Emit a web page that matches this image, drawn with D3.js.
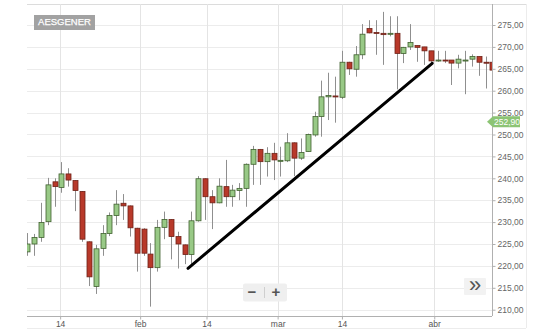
<!DOCTYPE html>
<html>
<head>
<meta charset="utf-8">
<script src="https://cdnjs.cloudflare.com/ajax/libs/d3/7.8.5/d3.min.js"></script>
<style>
  body { margin: 0; background: #fff; }
  svg { display: block; font-family: "Liberation Sans", Arial, sans-serif; }
</style>
</head>
<body>
<svg id="chart" width="550" height="330"></svg>
<script>
// daily candles, first visible day to last
const opens  = [223.2,225.0,226.5,230.1,239.2,237.9,241.0,239.5,237.0,225.5,
                215.3,224.0,227.4,231.5,234.3,233.7,228.6,228.4,222.7,219.6,
                228.8,230.6,226.7,224.8,222.6,230.3,239.9,235.8,234.4,238.1,
                235.8,237.2,237.7,243.2,246.6,243.8,245.7,243.9,244.0,248.1,
                244.6,246.1,249.9,254.1,258.6,258.8,258.5,266.5,264.9,268.2,
                274.2,273.3,273.1,273.0,273.1,268.5,270.0,270.3,270.0,269.1,
                267.0,267.0,267.0,266.3,266.9,267.2,267.8,266.5,266.5];
const highs  = [227.5,227.3,234.4,240.1,240.0,243.7,242.3,239.6,237.1,225.6,
                224.8,229.3,232.2,237.3,236.4,233.8,228.7,228.6,225.2,230.5,
                232.4,230.7,227.8,224.9,232.4,240.5,240.0,237.3,240.0,244.2,
                238.5,238.9,243.4,247.4,246.7,247.1,248.1,247.2,250.3,248.2,
                249.1,250.2,255.2,262.3,264.1,263.2,269.1,266.6,270.2,275.2,
                276.1,276.1,278.0,277.0,277.0,270.0,275.2,270.3,270.0,269.1,
                269.1,269.1,267.0,268.2,269.1,268.3,267.8,267.8,266.6];
const lows   = [222.3,222.3,225.5,229.3,233.5,236.7,238.1,232.5,225.5,215.4,
                213.6,222.3,226.8,229.3,230.5,226.7,218.7,222.3,210.7,218.7,
                226.1,221.5,219.4,220.4,220.4,230.1,230.5,228.4,234.3,233.5,
                233.5,235.0,233.5,238.5,238.5,240.4,239.6,240.4,243.7,240.5,
                244.2,246.0,249.5,249.5,253.3,252.7,258.1,263.6,263.2,267.2,
                273.1,268.2,265.9,272.4,260.3,266.3,269.3,266.6,265.9,266.3,
                266.6,266.3,261.3,265.1,259.2,265.5,263.4,260.5,264.0];
const closes = [225.0,226.5,229.9,238.5,238.1,241.0,239.6,237.2,226.1,217.5,
                223.9,227.4,231.5,234.1,233.7,228.7,222.9,222.9,219.6,228.8,
                230.6,226.7,225.0,222.6,230.3,239.9,235.8,234.4,238.2,235.8,
                237.3,237.7,243.2,246.6,243.8,245.7,244.2,244.1,248.1,244.6,
                245.9,250.0,254.1,258.6,258.9,258.6,266.5,265.0,268.2,272.9,
                273.2,273.1,272.8,273.1,268.5,269.9,271.0,269.9,269.1,266.8,
                267.0,266.9,266.3,267.2,267.0,267.8,266.5,266.3,264.7];

const dateTickAt = [4.8, 16.5, 26.2, 36.6, 46, 59.5];   // in candle index units
const dateTickLabels = ["14", "feb", "14", "mar", "14", "abr"];
const priceTicks = [210, 215, 220, 225, 230, 235, 240, 245, 250, 255, 260, 265, 270, 275];

const symbol = "AESGENER";
const lastPrice = 252.90;
// hand drawn trend line: [candle index, price]
const trendLine = [[23.5, 219.45], [59.2, 266.25]];

const candles = opens.map((o, i) => ({ i: i, o: o, h: highs[i], l: lows[i], c: closes[i] }));

const svg = d3.select("#chart");
const plotL = 27, plotR = 492, plotT = 4, plotB = 316;

const x = d3.scaleLinear().domain([0, candles.length - 1]).range([27.3, 492.4]);
const y = d3.scaleLinear().domain([210, 275]).range([309.7, 25]);

const es = d3.formatLocale({ decimal: ",", thousands: ".", grouping: [3], currency: ["", ""] });
const fmt = es.format(".2f");

svg.append("clipPath").attr("id", "plot")
  .append("rect").attr("x", plotL).attr("y", plotT).attr("width", plotR - plotL).attr("height", plotB - plotT);

// outer frame lines
svg.append("line").attr("x1", plotL).attr("x2", 526).attr("y1", plotT + 0.5).attr("y2", plotT + 0.5)
  .attr("stroke", "#dcdcdc");
svg.append("line").attr("x1", 526.5).attr("x2", 526.5).attr("y1", plotT).attr("y2", plotB + 12)
  .attr("stroke", "#ececec");
svg.append("line").attr("x1", plotL).attr("x2", 526).attr("y1", 328.5).attr("y2", 328.5)
  .attr("stroke", "#ececec");

// grid
svg.append("g").selectAll("line").data(priceTicks).join("line")
  .attr("x1", plotL).attr("x2", plotR)
  .attr("y1", d => Math.round(y(d)) + 0.5).attr("y2", d => Math.round(y(d)) + 0.5)
  .attr("stroke", "#ececec");
svg.append("g").selectAll("line").data(dateTickAt).join("line")
  .attr("x1", d => Math.round(x(d)) + 0.5).attr("x2", d => Math.round(x(d)) + 0.5)
  .attr("y1", plotT).attr("y2", plotB)
  .attr("stroke", "#e4e4e4");

// axes
const yAxis = svg.append("g").attr("transform", `translate(${plotR + 0.5},0)`)
  .call(d3.axisRight(y).tickValues(priceTicks).tickFormat(fmt).tickSize(3).tickPadding(2));
yAxis.select(".domain").attr("d", `M0,${plotT}V${plotB}`).attr("stroke", "#b0b0b0");
yAxis.selectAll(".tick line").attr("stroke", "#b0b0b0");
yAxis.selectAll("text").attr("fill", "#666").attr("font-size", 8.5)
  .attr("font-family", "'Liberation Sans', Arial, sans-serif");

const xAxis = svg.append("g").attr("transform", `translate(0,${plotB + 0.5})`)
  .call(d3.axisBottom(x).tickValues(dateTickAt).tickFormat((d, i) => dateTickLabels[i]).tickSize(3).tickPadding(1));
xAxis.select(".domain").attr("d", `M${plotL},0H${plotR}`).attr("stroke", "#b0b0b0");
xAxis.selectAll(".tick line").attr("stroke", "#b0b0b0");
xAxis.selectAll("text").attr("fill", "#555").attr("font-size", 8.5)
  .attr("font-family", "'Liberation Sans', Arial, sans-serif");

// candles
const cg = svg.append("g").attr("clip-path", "url(#plot)");
const bodyW = 5;
const up = d => d.c >= d.o;

cg.selectAll("line.wick").data(candles).join("line")
  .attr("class", "wick")
  .attr("x1", d => Math.round(x(d.i)) + 0.5).attr("x2", d => Math.round(x(d.i)) + 0.5)
  .attr("y1", d => y(d.h)).attr("y2", d => y(d.l))
  .attr("stroke", "#8f8f8f").attr("stroke-width", 1);

cg.selectAll("rect.body").data(candles).join("rect")
  .attr("class", "body")
  .attr("x", d => Math.round(x(d.i)) - bodyW / 2 + 0.5)
  .attr("y", d => y(Math.max(d.o, d.c)))
  .attr("width", bodyW)
  .attr("height", d => Math.max(1, Math.abs(y(d.o) - y(d.c))))
  .attr("fill", d => up(d) ? "#98c986" : "#b8392a")
  .attr("stroke", d => up(d) ? "#40602f" : "#6e2218")
  .attr("stroke-width", 0.8);

// trend line
svg.append("line")
  .attr("x1", x(trendLine[0][0])).attr("y1", y(trendLine[0][1]))
  .attr("x2", x(trendLine[1][0])).attr("y2", y(trendLine[1][1]))
  .attr("stroke", "#000").attr("stroke-width", 3).attr("stroke-linecap", "round");

// symbol label
svg.append("rect").attr("x", 34).attr("y", 15).attr("width", 61).attr("height", 15).attr("fill", "#a2a2a2");
svg.append("text").attr("x", 64.5).attr("y", 22.8).attr("text-anchor", "middle")
  .attr("dominant-baseline", "middle").attr("fill", "#fff").attr("font-size", 9.5)
  .attr("stroke", "#fff").attr("stroke-width", 0.25)
  .text(symbol);

// last price tag
const py = y(lastPrice);
svg.append("path")
  .attr("d", `M487,${py} L493,${py - 5.5} H520 V${py + 5.5} H493 Z`)
  .attr("fill", "#8cc474");
svg.append("text").attr("x", 507).attr("y", py + 0.5).attr("text-anchor", "middle")
  .attr("dominant-baseline", "middle").attr("fill", "#fff").attr("font-size", 8.5)
  .text(fmt(lastPrice));

// zoom buttons
svg.append("rect").attr("x", 243).attr("y", 283.5).attr("width", 44).attr("height", 18)
  .attr("rx", 2).attr("fill", "#efefef");
svg.append("line").attr("x1", 264.5).attr("x2", 264.5).attr("y1", 287).attr("y2", 298)
  .attr("stroke", "#cfcfcf");
svg.append("text").attr("x", 252).attr("y", 293).attr("text-anchor", "middle")
  .attr("dominant-baseline", "middle").attr("fill", "#555").attr("font-size", 15).attr("font-weight", "bold")
  .text("\u2212");
svg.append("text").attr("x", 276).attr("y", 293).attr("text-anchor", "middle")
  .attr("dominant-baseline", "middle").attr("fill", "#555").attr("font-size", 15).attr("font-weight", "bold")
  .text("+");

// scroll button
svg.append("rect").attr("x", 464).attr("y", 278).attr("width", 22).attr("height", 17)
  .attr("rx", 1).attr("fill", "#f2f2f2");
svg.append("text").attr("x", 475).attr("y", 286).attr("text-anchor", "middle")
  .attr("dominant-baseline", "middle").attr("fill", "#555").attr("font-size", 22)
  .text("\u00bb");
</script>
</body>
</html>
